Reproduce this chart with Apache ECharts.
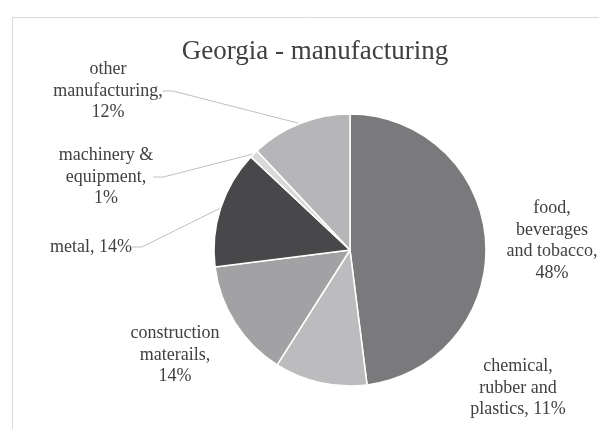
<!DOCTYPE html>
<html>
<head>
<meta charset="utf-8">
<script src="https://cdn.jsdelivr.net/npm/echarts@6/dist/echarts.min.js"></script>
<style>html,body{margin:0;padding:0;background:#fff;}#c{width:599px;height:429px;}</style>
</head>
<body>
<div id="c"></div>
<script>
const categories = ['food, beverages and tobacco', 'chemical, rubber and plastics', 'construction materails', 'metal', 'machinery & equipment', 'other manufacturing'];
const values = [48, 11, 14, 14, 1, 12];
const labelHeads = ['food,\nbeverages\nand tobacco,\n', 'chemical,\nrubber and\nplastics, ', 'construction\nmaterails,\n', 'metal, ', 'machinery &\nequipment,\n', 'other\nmanufacturing,\n'];
const colors = ['#7a7a7d', '#bcbcbf', '#a2a2a5', '#48484a', '#d9d9d9', '#b6b6b9'];
const showLines = [false, false, false, true, true, true];
const labelPos = [[552, 241], [518, 388], [175, 355], [91, 247], [106, 177], [108, 91]];
const serif = 'Liberation Serif';

const chart = echarts.init(document.getElementById('c'));
chart.setOption({
  animation: false,
  textStyle: {fontFamily: serif},
  graphic: [{type: 'rect', shape: {x: 12.5, y: 17.5, width: 600, height: 430}, style: {fill: 'none', stroke: '#d9d9d9', lineWidth: 1}, z: -1}],
  title: {text: 'Georgia - manufacturing', left: 310, top: 33, textAlign: 'center',
    textStyle: {fontFamily: serif, fontSize: 27, fontWeight: 'normal', color: '#404040'}},
  series: [{
    type: 'pie',
    center: [350, 250],
    radius: 136,
    startAngle: 90,
    clockwise: true,
    itemStyle: {borderColor: '#fff', borderWidth: 1.5},
    label: {
      show: true,
      formatter: p => labelHeads[p.dataIndex] + values[p.dataIndex] + '%',
      fontFamily: serif, fontSize: 18, lineHeight: 21.5, color: '#404040', align: 'center',
      overflow: 'none'
    },
    labelLine: {show: true, lineStyle: {color: '#bfbfbf', width: 1}, length: 10, length2: 10},
    labelLayout: p => ({x: labelPos[p.dataIndex][0], y: labelPos[p.dataIndex][1], align: 'center', verticalAlign: 'middle'}),
    data: categories.map((c, i) => ({
      name: c, value: values[i],
      itemStyle: {color: colors[i]},
      labelLine: {show: showLines[i]}
    }))
  }]
});
</script>
</body>
</html>
